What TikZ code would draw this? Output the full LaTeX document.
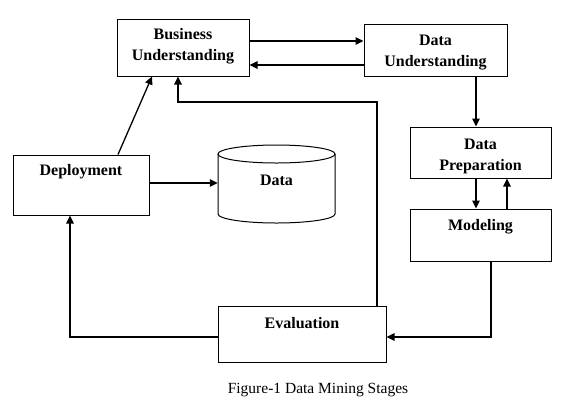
\documentclass[tikz,border=0pt]{standalone}
\usepackage{fontspec}
\setmainfont{Liberation Serif}
\usetikzlibrary{arrows.meta}
\begin{document}
\begin{tikzpicture}[x=1pt,y=-1pt,
  box/.style={draw,line width=1pt,rectangle,inner sep=0pt},
  lbl/.style={font=\fontsize{16}{19}\selectfont\bfseries,align=center,inner sep=0pt},
  arr/.style={line width=1.3pt,-{Triangle[length=8pt,width=7.5pt]}},
  ln/.style={line width=1.3pt}]
\useasboundingbox (0,0) rectangle (568,408);
% boxes
\node[box,minimum width=132pt,minimum height=57pt] (bu) at (183,47.5) {};
\node[box,minimum width=143pt,minimum height=52pt] (du) at (435.5,50) {};
\node[box,minimum width=141pt,minimum height=51pt] (dp) at (480.5,152.5) {};
\node[box,minimum width=141pt,minimum height=52pt] (mod) at (480.5,235) {};
\node[box,minimum width=136pt,minimum height=60pt] (dep) at (81,185) {};
\node[box,minimum width=168pt,minimum height=56pt] (ev) at (302,334) {};
% cylinder
\node[inner sep=0pt,minimum width=117pt,minimum height=60pt] (data) at (276.5,184) {};
\draw[line width=1pt] (218,154) -- (218,214) arc[start angle=180,end angle=360,x radius=58.5pt,y radius=9pt] -- (335,154);
\draw[line width=1pt] (276.5,154) ellipse[x radius=58.5pt,y radius=9pt];
% labels
\node[lbl] (tbu) at (183,46.5) {Business\\[2pt]Understanding};
\node[lbl] (tdu) at (435.5,52.5) {Data\\[2pt]Understanding};
\node[lbl] (tdp) at (480.5,156.5) {Data\\[2pt]Preparation};
\node[lbl] (tmod) at (480.5,227) {Modeling};
\node[lbl] (tdep) at (81,171.5) {Deployment};
\node[lbl] (tev) at (302,323) {Evaluation};
\node[lbl] (tdata) at (276.5,180) {Data};
\node[font=\fontsize{15.5}{19}\selectfont,inner sep=0pt] (cap) at (318,390) {Figure-1 Data Mining Stages};
% connectors
\draw[arr] (bu.east |- 0,41) -- (du.west |- 0,41);
\draw[arr] (du.west |- 0,65) -- (bu.east |- 0,65);
\draw[arr] (du.south -| 476,0) -- (dp.north -| 476,0);
\draw[arr] (dp.south -| 476,0) -- (mod.north -| 476,0);
\draw[arr] (mod.north -| 507,0) -- (dp.south -| 507,0);
\draw[arr] (mod.south -| 491,0) -- (491,337) -- (ev.east |- 0,337);
\draw[arr] (ev.north -| 377,0) -- (377,102) -- (178,102) -- (bu.south -| 178,0);
\draw[arr] (ev.west |- 0,337) -- (70,337) -- (dep.south -| 70,0);
\draw[arr] (dep.north -| 118,0) -- (bu.south -| 152,0);
\draw[arr] (dep.east |- 0,183) -- (data.west |- 0,183);
\end{tikzpicture}
\end{document}
